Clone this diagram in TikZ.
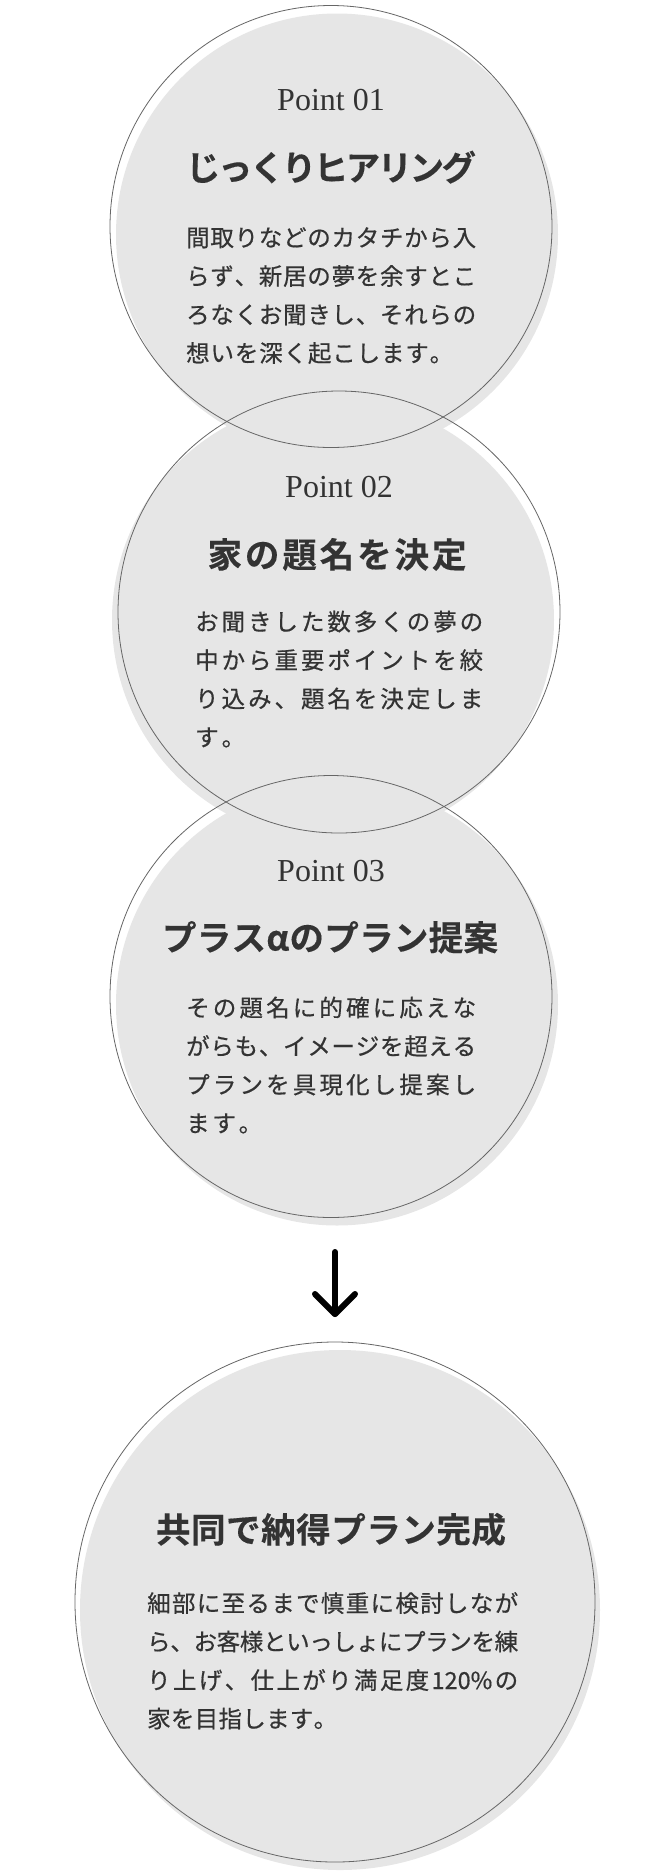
\documentclass[tikz,border=0pt]{standalone}
\usepackage{fontspec}
\setmainfont{Liberation Serif}
\newfontfamily\jp{Noto Sans CJK JP}[FakeBold=0.5]
\newfontfamily\jpb{Noto Sans CJK JP}[UprightFont=* Bold,FakeBold=0.3]
\definecolor{txt}{HTML}{333333}
\definecolor{discc}{HTML}{E6E6E6}
\definecolor{ringc}{HTML}{666666}
\def\jlend{\relax}
\newcommand\jl[2]{\makebox[#1][s]{\jlfirst#2\jlend}}
\def\jlfirst#1{#1\jlrest}
\def\jlrest#1{\ifx\jlend#1\else\hss#1\expandafter\jlrest\fi}
\begin{document}
\begin{tikzpicture}[x=1pt,y=-1pt,
  whitedisc/.style={circle,fill=white,inner sep=0pt,minimum size=#1},
  greydisc/.style={circle,fill=discc,inner sep=0pt,minimum size=#1},
  ringline/.style={circle,draw=ringc,line width=0.8pt,inner sep=0pt,minimum size=#1},
  pointlbl/.style={anchor=base,inner sep=0pt,text=txt,font=\fontsize{32}{32}\selectfont},
  titlelbl/.style={anchor=base,inner sep=0pt,text=txt,font=\jpb\fontsize{34.5}{34.5}\selectfont},
  bodylbl/.style={anchor=base west,inner sep=0pt,text=txt,font=\jp\fontsize{23.5}{23.5}\selectfont},
  arrowline/.style={line width=6pt,line cap=round,line join=round,draw=black}]
\useasboundingbox (0,0) rectangle (670,1875);
% item 3 (bottom layer)
\node[whitedisc=442pt] (w3) at (331,996.5) {};
\node[greydisc=442pt] (g3) at (337,1004.5) {};
\node[pointlbl] (p3) at (331,881) {Point 03};
\node[titlelbl] (t3) at (330,950.5) {\jl{336pt}{プラスαのプラン提案}};
\node[bodylbl] (b3a) at (186,1016.5) {\jl{290pt}{その題名に的確に応えな}};
\node[bodylbl] (b3b) at (186,1055) {\jl{290pt}{がらも、イメージを超える}};
\node[bodylbl] (b3c) at (186,1093.5) {\jl{290pt}{プランを具現化し提案し}};
\node[bodylbl] (b3d) at (186,1132) {\jl{76pt}{ます。}};
% item 2
\node[whitedisc=442pt] (w2) at (339,612) {};
\node[greydisc=442pt] (g2) at (333,620) {};
\node[pointlbl] (p2) at (339,497) {Point 02};
\node[titlelbl] (t2) at (337,567.5) {\jl{259pt}{家の題名を決定}};
\node[bodylbl] (b2a) at (195,630.5) {\jl{288pt}{お聞きした数多くの夢の}};
\node[bodylbl] (b2b) at (195,669) {\jl{288pt}{中から重要ポイントを絞}};
\node[bodylbl] (b2c) at (195,707.5) {\jl{288pt}{り込み、題名を決定しま}};
\node[bodylbl] (b2d) at (195,746) {\jl{50pt}{す。}};
% item 1 (top layer)
\node[whitedisc=442pt] (w1) at (331,226.5) {};
\node[greydisc=442pt] (g1) at (337,234.5) {};
\node[pointlbl] (p1) at (331,110.8) {Point 01};
\node[titlelbl] (t1) at (331,180.5) {\jl{290pt}{じっくりヒアリング}};
\node[bodylbl] (b1a) at (186,246.4) {\jl{290pt}{間取りなどのカタチから入}};
\node[bodylbl] (b1b) at (186,284.9) {\jl{290pt}{らず、新居の夢を余すとこ}};
\node[bodylbl] (b1c) at (186,323.4) {\jl{290pt}{ろなくお聞きし、それらの}};
\node[bodylbl] (b1d) at (186,361.9) {\jl{267pt}{想いを深く起こします。}};
% item 4
\node[whitedisc=520pt] (w4) at (335,1602) {};
\node[greydisc=520pt] (g4) at (340,1610) {};
\node[titlelbl] (t4) at (331,1542.5) {\jl{350pt}{共同で納得プラン完成}};
\node[bodylbl] (b4a) at (147,1612) {\jl{371pt}{細部に至るまで慎重に検討しなが}};
\node[bodylbl] (b4b) at (147,1650.5) {\jl{371pt}{ら、お客様といっしょにプランを練}};
\node[bodylbl] (b4c) at (147,1689) {\jl{371pt}{り上げ、仕上がり満足度{120\%}の}};
\node[bodylbl] (b4d) at (147,1727.5) {\jl{190pt}{家を目指します。}};
% outlines on top
\node[ringline=442pt] (c3) at (331,996.5) {};
\node[ringline=442pt] (c2) at (339,612) {};
\node[ringline=442pt] (c1) at (331,226.5) {};
\node[ringline=520pt] (c4) at (335,1602) {};
% arrow
\coordinate (atop) at (335,1252);
\coordinate (atip) at (335,1314);
\coordinate (aleft) at (315,1294);
\coordinate (aright) at (355,1294);
\draw[arrowline] (atop) -- (atip);
\draw[arrowline] (aleft) -- (atip) -- (aright);
\end{tikzpicture}
\end{document}
